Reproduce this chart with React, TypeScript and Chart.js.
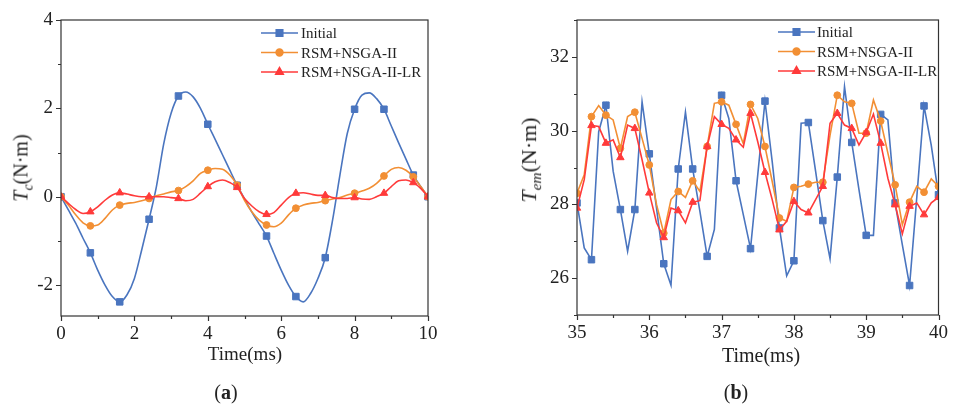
import React, { useEffect, useRef } from 'react';
import { Chart, registerables } from 'chart.js';
import { drawPoint } from 'chart.js/helpers';
Chart.register(...registerables);

// ---------- Panel (a): cogging torque ----------
const A_TIME = [0, 0.2, 0.4, 0.6, 0.8, 1, 1.2, 1.4, 1.6, 1.8, 2, 2.2, 2.4, 2.6, 2.8, 3, 3.2, 3.4, 3.6, 3.8, 4, 4.2, 4.4, 4.6, 4.8, 5, 5.2, 5.4, 5.6, 5.8, 6, 6.2, 6.4, 6.6, 6.8, 7, 7.2, 7.4, 7.6, 7.8, 8, 8.2, 8.4, 8.6, 8.8, 9, 9.2, 9.4, 9.6, 9.8, 10];
const A_INITIAL = [0, -0.3, -0.6, -0.94, -1.27, -1.66, -2.0, -2.26, -2.38, -2.22, -1.85, -1.2, -0.51, 0.23, 1.2, 1.89, 2.28, 2.37, 2.26, 2.0, 1.64, 1.3, 0.95, 0.6, 0.26, -0.05, -0.35, -0.62, -0.89, -1.28, -1.66, -2.0, -2.26, -2.38, -2.19, -1.85, -1.38, -0.53, 0.49, 1.43, 1.98, 2.3, 2.35, 2.22, 1.98, 1.6, 1.22, 0.85, 0.49, 0.23, 0];
const A_RSM = [0, -0.19, -0.41, -0.59, -0.66, -0.64, -0.49, -0.3, -0.19, -0.15, -0.13, -0.09, -0.04, 0.02, 0.06, 0.11, 0.14, 0.23, 0.36, 0.53, 0.6, 0.64, 0.62, 0.49, 0.26, -0.08, -0.34, -0.53, -0.64, -0.68, -0.6, -0.41, -0.26, -0.19, -0.15, -0.13, -0.09, -0.05, -0.02, 0.04, 0.08, 0.13, 0.19, 0.3, 0.47, 0.62, 0.66, 0.6, 0.45, 0.23, 0];
const A_LR = [0, -0.15, -0.29, -0.38, -0.34, -0.23, -0.08, 0.04, 0.09, 0.06, 0.02, 0, 0, 0, 0, -0.02, -0.04, -0.09, -0.06, 0.08, 0.23, 0.34, 0.38, 0.32, 0.21, -0.04, -0.21, -0.34, -0.4, -0.36, -0.19, -0.02, 0.08, 0.09, 0.06, 0.03, 0.03, -0.02, -0.04, -0.04, -0.02, -0.05, -0.06, 0, 0.08, 0.23, 0.36, 0.38, 0.32, 0.19, 0];
const A_X_LABELS = [0, 2, 4, 6, 8, 10];
const A_Y_LABELS = [-2, 0, 2, 4];

// ---------- Panel (b): electromagnetic torque ----------
const B_TIME = [35, 35.1, 35.2, 35.3, 35.4, 35.5, 35.6, 35.7, 35.8, 35.9, 36, 36.1, 36.2, 36.3, 36.4, 36.5, 36.6, 36.7, 36.8, 36.9, 37, 37.1, 37.2, 37.3, 37.4, 37.5, 37.6, 37.7, 37.8, 37.9, 38, 38.1, 38.2, 38.3, 38.4, 38.5, 38.6, 38.7, 38.8, 38.9, 39, 39.1, 39.2, 39.3, 39.4, 39.5, 39.6, 39.7, 39.8, 39.9, 40];
const B_INITIAL = [28.04, 26.82, 26.5, 29.97, 30.69, 28.9, 27.86, 26.73, 27.86, 30.78, 29.37, 27.9, 26.39, 25.81, 28.96, 30.5, 28.96, 27.81, 26.59, 27.32, 30.96, 30.33, 28.64, 27.72, 26.8, 28.8, 30.8, 29.16, 27.36, 26.06, 26.47, 30.2, 30.22, 28.9, 27.56, 26.53, 28.74, 31.19, 29.68, 28.4, 27.16, 27.16, 30.44, 30.29, 28.04, 26.9, 25.8, 28.2, 30.67, 29.6, 28.26];
const B_RSM = [28.3, 28.8, 30.38, 30.68, 30.42, 30.29, 29.52, 30.38, 30.5, 29.79, 29.07, 28.0, 27.22, 28.13, 28.35, 28.19, 28.64, 28.35, 29.57, 30.74, 30.78, 30.69, 30.17, 29.65, 30.71, 30.33, 29.57, 28.62, 27.63, 27.54, 28.46, 28.49, 28.55, 28.6, 28.6, 29.88, 30.96, 30.78, 30.74, 29.93, 29.93, 30.83, 30.26, 29.39, 28.53, 27.45, 28.06, 28.49, 28.33, 28.69, 28.49];
const B_LR = [27.9, 28.67, 30.14, 30.11, 29.66, 29.75, 29.27, 30.15, 30.06, 29.21, 28.31, 27.5, 27.1, 27.9, 27.83, 27.5, 28.06, 28.1, 29.57, 30.38, 30.17, 30.06, 29.75, 29.55, 30.47, 29.7, 28.87, 28.13, 27.31, 27.54, 28.08, 27.86, 27.77, 28.13, 28.49, 30.2, 30.47, 30.15, 30.06, 29.61, 29.95, 30.45, 29.66, 28.71, 27.99, 27.2, 27.95, 28.04, 27.72, 28.04, 28.19];
const B_X_LABELS = [35, 36, 37, 38, 39, 40];
const B_Y_LABELS = [26, 28, 30, 32];

const SERIES_NAMES = ['Initial', 'RSM+NSGA-II', 'RSM+NSGA-II-LR'];
const COLORS = ['#4a75bf', '#f28f34', '#ff3a3a'];
const POINT_STYLES = ['rect', 'circle', 'triangle'];
const POINT_RADII = [4.6, 3.4, 4.3];
const FONT = '"Liberation Serif", "Times New Roman", serif';
const LEGEND_ROW = 19.5;

const near = (v: number, list: number[]) => list.some((m) => Math.abs(m - v) < 1e-6);

const framePlugin = {
  id: 'frame',
  afterDraw(chart: any, _args: any, opts: any) {
    const { ctx, chartArea } = chart;
    const { left, right, top, bottom } = chartArea;
    ctx.save();
    ctx.strokeStyle = '#333';
    ctx.lineWidth = 1.2;
    ctx.strokeRect(left, top, right - left, bottom - top);
    const xs = chart.scales.x;
    const ys = chart.scales.y;
    ctx.beginPath();
    xs.ticks.forEach((t: any) => {
      const px = Math.round(xs.getPixelForValue(t.value)) + 0.5;
      const len = near(t.value, opts.xLabels) ? 5 : 3;
      ctx.moveTo(px, bottom);
      ctx.lineTo(px, bottom + len);
    });
    ys.ticks.forEach((t: any) => {
      const py = Math.round(ys.getPixelForValue(t.value)) + 0.5;
      const len = near(t.value, opts.yLabels) ? 5 : 3;
      ctx.moveTo(left, py);
      ctx.lineTo(left - len, py);
    });
    ctx.stroke();

    // legend symbols (line + marker); the legend text is HTML
    chart.data.datasets.forEach((ds: any, i: number) => {
      const y = opts.legendY + i * LEGEND_ROW;
      const x0 = opts.legendX;
      ctx.strokeStyle = ds.borderColor;
      ctx.lineWidth = 1.6;
      ctx.beginPath();
      ctx.moveTo(x0, y);
      ctx.lineTo(x0 + 37, y);
      ctx.stroke();
      ctx.fillStyle = ds.borderColor;
      drawPoint(ctx, { pointStyle: POINT_STYLES[i], radius: POINT_RADII[i], rotation: 0, borderWidth: 1 } as any, x0 + 18.5, y);
    });
    ctx.restore();
  },
};

type PanelProps = {
  times: number[];
  series: number[][];
  isMarker: (i: number, n: number) => boolean;
  smooth: boolean;
  xMin: number; xMax: number; xStep: number; xLabels: number[];
  yMin: number; yMax: number; yStep: number; yLabels: number[];
  width: number; height: number; yWidth: number; padRight: number; padTop: number; plotBottom: number;
  legendX: number; legendY: number;
  left: number;
};

function Panel(p: PanelProps) {
  const ref = useRef<HTMLCanvasElement | null>(null);
  useEffect(() => {
    if (!ref.current) return;
    const datasets = p.series.map((vals, i) => ({
      label: SERIES_NAMES[i],
      data: p.times.map((t, j) => ({ x: t, y: vals[j] })),
      borderColor: COLORS[i],
      backgroundColor: COLORS[i],
      borderWidth: 1.6,
      pointStyle: POINT_STYLES[i],
      pointRadius: (c: any) => (p.isMarker(c.dataIndex, p.times.length) ? POINT_RADII[i] : 0),
      pointBorderWidth: 1,
      pointHoverRadius: 0,
      cubicInterpolationMode: p.smooth ? 'monotone' : 'default',
      tension: 0,
      order: 3 - i,
    }));
    const tickFont = { family: FONT, size: 19 };
    const chart = new Chart(ref.current, {
      type: 'line',
      data: { datasets } as any,
      options: {
        animation: false,
        responsive: false,
        devicePixelRatio: 1,
        events: [],
        layout: { padding: { left: 0, top: p.padTop, right: p.padRight, bottom: 0 } },
        plugins: {
          legend: { display: false },
          tooltip: { enabled: false },
          frame: { xLabels: p.xLabels, yLabels: p.yLabels, legendX: p.legendX, legendY: p.legendY },
        } as any,
        scales: {
          x: {
            type: 'linear',
            min: p.xMin,
            max: p.xMax,
            grid: { display: false, drawTicks: false },
            border: { display: false },
            ticks: {
              stepSize: p.xStep,
              includeBounds: false,
              autoSkip: false,
              maxRotation: 0,
              padding: 7,
              color: '#222',
              font: tickFont,
              callback: (v: any) => (near(Number(v), p.xLabels) ? String(Math.round(Number(v))) : ''),
            },
            afterFit: (s: any) => { s.height = p.height - p.plotBottom; },
          },
          y: {
            type: 'linear',
            min: p.yMin,
            max: p.yMax,
            grid: { display: false, drawTicks: false },
            border: { display: false },
            ticks: {
              stepSize: p.yStep,
              includeBounds: false,
              autoSkip: false,
              padding: 8,
              color: '#222',
              font: tickFont,
              callback: (v: any) => (near(Number(v), p.yLabels) ? String(Math.round(Number(v))) : ''),
            },
            afterFit: (s: any) => { s.width = p.yWidth; },
          },
        },
      } as any,
      plugins: [framePlugin],
    });
    return () => chart.destroy();
  }, []);
  return (
    <canvas
      ref={ref}
      width={p.width}
      height={p.height}
      style={{ position: 'absolute', left: p.left, top: 0, width: p.width, height: p.height }}
    />
  );
}

function Txt({ x, y, size, rotate, children }: any) {
  return (
    <div
      style={{
        position: 'absolute',
        left: x,
        top: y,
        transform: `translate(-50%, -50%)${rotate ? ' rotate(-90deg)' : ''}`,
        fontFamily: FONT,
        fontSize: size,
        lineHeight: 1,
        whiteSpace: 'nowrap',
        color: '#222',
      }}
    >
      {children}
    </div>
  );
}

function LegendText({ x, y }: { x: number; y: number }) {
  return (
    <>
      {SERIES_NAMES.map((name, i) => (
        <div
          key={name}
          style={{
            position: 'absolute',
            left: x,
            top: y + i * LEGEND_ROW,
            transform: 'translateY(-50%)',
            fontFamily: FONT,
            fontSize: 15,
            lineHeight: 1,
            whiteSpace: 'nowrap',
            color: '#222',
          }}
        >
          {name}
        </div>
      ))}
    </>
  );
}

export default function App() {
  return (
    <div style={{ position: 'absolute', left: 0, top: 0, width: 955, height: 405, background: '#fff', overflow: 'hidden' }}>
      <Panel
        times={A_TIME}
        series={[A_INITIAL, A_RSM, A_LR]}
        isMarker={(i, n) => i % 4 === 0 || i === n - 1}
        smooth={true}
        xMin={0} xMax={10} xStep={1} xLabels={A_X_LABELS}
        yMin={-2.7} yMax={4} yStep={1} yLabels={A_Y_LABELS}
        width={470} height={405} yWidth={61} padRight={42} padTop={20} plotBottom={316}
        legendX={261} legendY={33}
        left={0}
      />
      <Panel
        times={B_TIME}
        series={[B_INITIAL, B_RSM, B_LR]}
        isMarker={(i) => i % 2 === 0}
        smooth={false}
        xMin={35} xMax={40} xStep={0.5} xLabels={B_X_LABELS}
        yMin={25} yMax={33} yStep={1} yLabels={B_Y_LABELS}
        width={475} height={405} yWidth={97} padRight={12} padTop={20} plotBottom={315}
        legendX={298} legendY={32}
        left={480}
      />
      <LegendText x={301} y={33} />
      <LegendText x={817} y={32} />
      <Txt x={23} y={168} size={20} rotate>
        <i>T</i><sub style={{ fontSize: '0.7em', fontStyle: 'italic' }}>c</sub>(N·m)
      </Txt>
      <Txt x={245} y={353} size={19}>Time(ms)</Txt>
      <Txt x={226} y={392} size={20}>(<b>a</b>)</Txt>
      <Txt x={531} y={160} size={22} rotate>
        <i>T</i><sub style={{ fontSize: '0.7em', fontStyle: 'italic' }}>em</sub>(N·m)
      </Txt>
      <Txt x={761} y={355} size={20}>Time(ms)</Txt>
      <Txt x={736} y={392} size={20}>(<b>b</b>)</Txt>
    </div>
  );
}
